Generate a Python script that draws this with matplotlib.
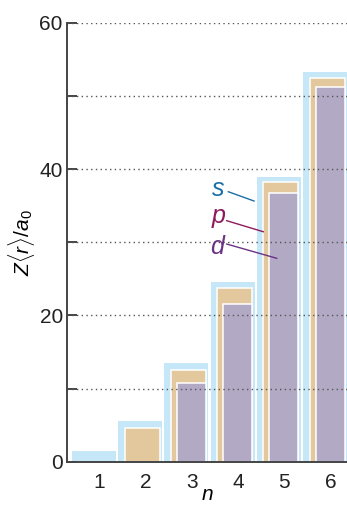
import numpy as np
import matplotlib
matplotlib.use("Agg")
import matplotlib.pyplot as plt

plt.rcParams['font.family'] = ['Liberation Sans', 'DejaVu Sans']
plt.rcParams['mathtext.fontset'] = 'custom'
plt.rcParams['mathtext.it'] = 'Liberation Sans:italic'
plt.rcParams['mathtext.rm'] = 'Liberation Sans'

# values (Z<r>/a0 for each n)
n_s = [1, 2, 3, 4, 5, 6]
s_vals = [1.4, 5.6, 13.5, 24.6, 38.9, 53.3]
n_p = [2, 3, 4, 5, 6]
p_vals = [4.6, 12.5, 23.8, 38.2, 52.5]
n_d = [3, 4, 5, 6]
d_vals = [10.7, 21.6, 36.7, 51.2]
y_ticks = [0, 20, 40, 60]
y_minor = [10, 30, 50]

c_s, c_p, c_d = '#c6e7f7', '#e3c89d', '#b2a9c5'
t_s, t_p, t_d = '#1a6fa8', '#8c1c5c', '#6a3383'

fig = plt.figure(figsize=(3.47, 5.07), dpi=100)
ax = fig.add_axes([67 / 347, 45.3 / 507, 280 / 347, 439 / 507])

w = 0.95
ax.bar(np.array(n_s) - w / 2, s_vals, width=w, align='edge', color=c_s, lw=0, zorder=1)
ax.bar(np.array(n_p) - w / 2 + 0.14, p_vals, width=w - 0.19, align='edge',
       color=c_p, edgecolor='white', lw=1.1, zorder=2)
ax.bar(np.array(n_d) - w / 2 + 0.27, d_vals, width=w - 0.32, align='edge',
       color=c_d, edgecolor='white', lw=1.1, zorder=3)

# dotted grid lines on top of the bars
for yv in y_ticks[1:] + y_minor:
    ax.axhline(yv, color='#555555', lw=1.0, dashes=(1, 2.4), zorder=5)

ax.set_xlim(0.416, 6.476)
ax.set_ylim(0, 60)
ax.set_yticks(y_ticks)
ax.set_yticks(y_minor, minor=True)
ax.tick_params(axis='y', which='both', direction='in', length=7, width=1.4,
               color='#444444', labelsize=15, pad=3, labelcolor='#222222')
ax.set_xticks(np.array(n_s) + 0.12)
ax.set_xticklabels([str(v) for v in n_s])
ax.tick_params(axis='x', length=0, labelsize=15, pad=8, labelcolor='#222222')

for side in ['top', 'right']:
    ax.spines[side].set_visible(False)
for side in ['left', 'bottom']:
    ax.spines[side].set_color('#444444')
    ax.spines[side].set_linewidth(1.4)
    ax.spines[side].set_zorder(6)

ax.set_ylabel(r'$Z\langle r\rangle/a_{\mathrm{0}}$', fontsize=15, labelpad=2)
ax.set_xlabel('n', fontsize=15, style='italic', labelpad=-5)

# labels with leader lines
ax.text(3.684, 36.3, 's', color=t_s, fontsize=18, style='italic', ha='center', va='baseline', zorder=7)
ax.plot([3.907, 4.463], [36.9, 35.63], color=t_s, lw=1.0, zorder=7)
ax.text(3.69, 32.6, 'p', color=t_p, fontsize=18, style='italic', ha='center', va='baseline', zorder=7)
ax.plot([3.872, 4.664], [32.94, 31.43], color=t_p, lw=1.0, zorder=7)
ax.text(3.67, 28.4, 'd', color=t_d, fontsize=18, style='italic', ha='center', va='baseline', zorder=7)
ax.plot([3.872, 4.955], [29.75, 27.8], color=t_d, lw=1.0, zorder=7)

fig.savefig('out.png', dpi=100)
